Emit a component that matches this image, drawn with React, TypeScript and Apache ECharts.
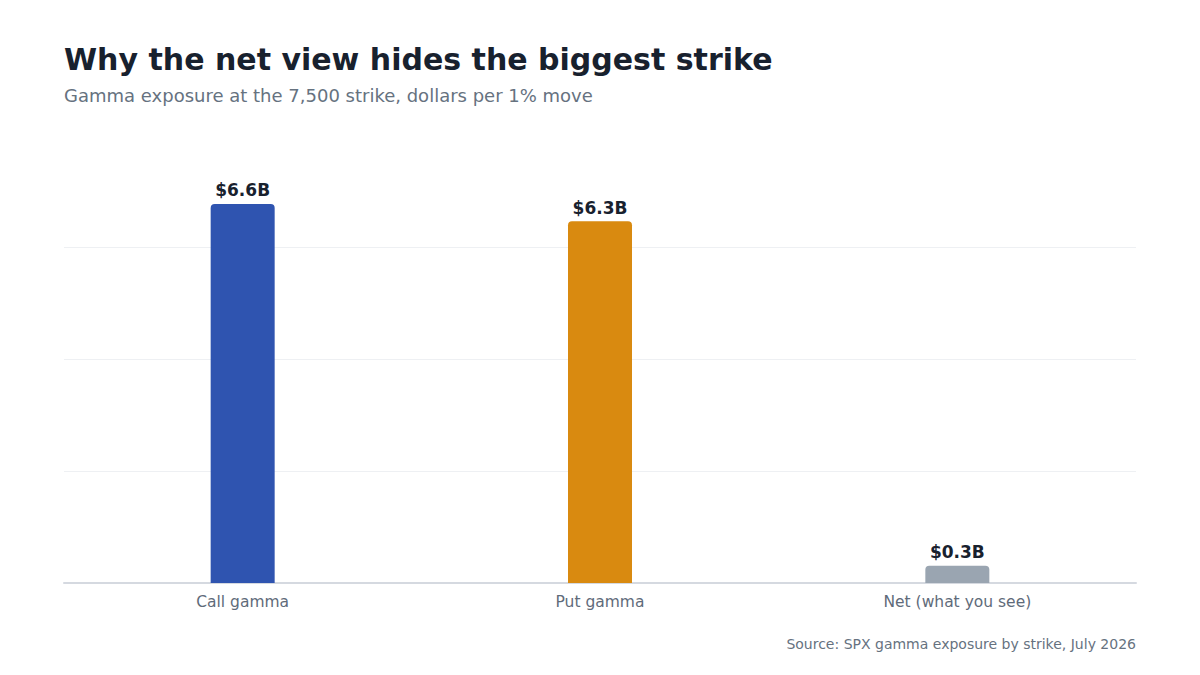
import React, { useEffect, useRef } from "react";
import * as echarts from "echarts";

// Gamma exposure at the 7,500 strike, in billions of dollars per 1% move
const categories = ["Call gamma", "Put gamma", "Net (what you see)"];
const values = [6.6, 6.3, 0.3];
const barColors = ["#2f54b0", "#d98a10", "#9aa5b1"];

const TITLE = "Why the net view hides the biggest strike";
const SUBTITLE = "Gamma exposure at the 7,500 strike, dollars per 1% move";
const SOURCE = "Source: SPX gamma exposure by strike, July 2026";

const FONT = "'DejaVu Sans', Verdana, sans-serif";

export default function App() {
  const ref = useRef<HTMLDivElement>(null);

  useEffect(() => {
    if (!ref.current) return;
    const chart = echarts.init(ref.current, undefined, { renderer: "svg" });
    chart.setOption({
      animation: false,
      backgroundColor: "#ffffff",
      textStyle: { fontFamily: FONT },
      title: [
        {
          text: TITLE,
          left: 59,
          top: 39,
          textStyle: { fontFamily: FONT, fontSize: 30, fontWeight: "bold", color: "#18212e" },
        },
        {
          text: SUBTITLE,
          left: 59,
          top: 81,
          textStyle: { fontFamily: FONT, fontSize: 18, fontWeight: "normal", color: "#66727f" },
        },
        {
          text: SOURCE,
          right: 59,
          top: 632,
          textStyle: { fontFamily: FONT, fontSize: 14, fontWeight: "normal", color: "#66727f" },
        },
      ],
      grid: { left: 64, right: 64, top: 135, bottom: 92, containLabel: false },
      xAxis: {
        type: "category",
        data: categories,
        axisLine: { show: true, lineStyle: { color: "#d5d9e0", width: 2 } },
        axisTick: { show: false },
        axisLabel: { color: "#5f6b7a", fontSize: 15.5, fontFamily: FONT, margin: 11 },
      },
      yAxis: {
        type: "value",
        min: 0,
        max: 7.8,
        interval: 1.95,
        axisLabel: { show: false },
        axisLine: { show: false },
        axisTick: { show: false },
        splitLine: { show: true, showMaxLine: false, lineStyle: { color: "#eef0f3", width: 1 } },
      },
      series: [
        {
          type: "bar",
          barWidth: 64,
          data: values.map((v, i) => ({
            value: v,
            itemStyle: { color: barColors[i], borderRadius: [4, 4, 0, 0] },
          })),
          label: {
            show: true,
            position: "top",
            distance: 5,
            formatter: (p: any) => "$" + Number(p.value).toFixed(1) + "B",
            fontFamily: FONT,
            fontSize: 17,
            fontWeight: "bold",
            color: "#18212e",
          },
        },
      ],
    });
    return () => chart.dispose();
  }, []);

  return <div ref={ref} style={{ width: 1200, height: 675, margin: -8 }} />;
}
